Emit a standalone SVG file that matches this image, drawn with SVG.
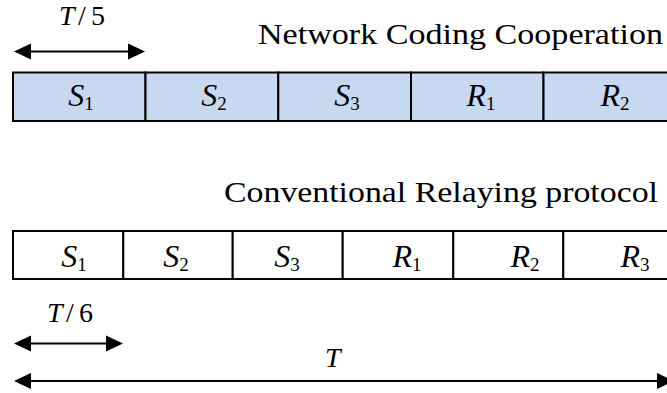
<svg xmlns="http://www.w3.org/2000/svg" width="667" height="393" viewBox="0 0 667 393">
<style>
.title{font-family:"Liberation Serif","Times New Roman",serif;font-size:30px;fill:#000}
.slot{stroke:#000;stroke-width:2}
.nc{fill:#C6D9F1}
.cr{fill:#FFFFFF}
.lab{font-family:"Liberation Serif","Times New Roman",serif;font-size:32px;fill:#000;text-anchor:middle}
.v{font-style:italic}
.sub{font-size:19px}
.dim{font-family:"Liberation Serif","Times New Roman",serif;font-size:28px;fill:#000}
.arr{stroke:#000;stroke-width:2;fill:none}
</style>
<defs>
<marker id="ah" markerUnits="userSpaceOnUse" markerWidth="18" markerHeight="18" viewBox="0 -9 18 18" refX="0" refY="0" orient="auto-start-reverse">
<path d="M0,-8 L17,0 L0,8 z" fill="#000"/>
</marker>
</defs>

<text class="title" x="258" y="44" textLength="405" lengthAdjust="spacingAndGlyphs">Network Coding Cooperation</text>
<text class="title" x="224" y="202" textLength="434" lengthAdjust="spacingAndGlyphs">Conventional Relaying protocol</text>

<g id="nc-S1"><rect class="slot nc" x="13" y="72.5" width="132.5" height="48.5"/><text class="lab" x="81" y="106"><tspan class="v">S</tspan><tspan class="sub" dy="4">1</tspan></text></g>
<g id="nc-S2"><rect class="slot nc" x="145.5" y="72.5" width="132.8" height="48.5"/><text class="lab" x="214" y="106"><tspan class="v">S</tspan><tspan class="sub" dy="4">2</tspan></text></g>
<g id="nc-S3"><rect class="slot nc" x="278.3" y="72.5" width="132.7" height="48.5"/><text class="lab" x="347" y="106"><tspan class="v">S</tspan><tspan class="sub" dy="4">3</tspan></text></g>
<g id="nc-R1"><rect class="slot nc" x="411" y="72.5" width="132.5" height="48.5"/><text class="lab" x="481" y="106"><tspan class="v">R</tspan><tspan class="sub" dy="4">1</tspan></text></g>
<g id="nc-R2"><rect class="slot nc" x="543.5" y="72.5" width="132.5" height="48.5"/><text class="lab" x="615" y="106"><tspan class="v">R</tspan><tspan class="sub" dy="4">2</tspan></text></g>

<g id="cr-S1"><rect class="slot cr" x="13" y="231" width="110.3" height="48"/><text class="lab" x="74" y="266.5"><tspan class="v">S</tspan><tspan class="sub" dy="4">1</tspan></text></g>
<g id="cr-S2"><rect class="slot cr" x="123.3" y="231" width="109.4" height="48"/><text class="lab" x="176" y="266.5"><tspan class="v">S</tspan><tspan class="sub" dy="4">2</tspan></text></g>
<g id="cr-S3"><rect class="slot cr" x="232.7" y="231" width="110" height="48"/><text class="lab" x="287" y="266.5"><tspan class="v">S</tspan><tspan class="sub" dy="4">3</tspan></text></g>
<g id="cr-R1"><rect class="slot cr" x="342.7" y="231" width="110.6" height="48"/><text class="lab" x="407" y="266.5"><tspan class="v">R</tspan><tspan class="sub" dy="4">1</tspan></text></g>
<g id="cr-R2"><rect class="slot cr" x="453.3" y="231" width="110" height="48"/><text class="lab" x="525" y="266.5"><tspan class="v">R</tspan><tspan class="sub" dy="4">2</tspan></text></g>
<g id="cr-R3"><rect class="slot cr" x="563.3" y="231" width="112" height="48"/><text class="lab" x="635" y="266.5"><tspan class="v">R</tspan><tspan class="sub" dy="4">3</tspan></text></g>

<g id="connectors">
<line class="arr" x1="31" y1="51.5" x2="128" y2="51.5" marker-start="url(#ah)" marker-end="url(#ah)"/>
<line class="arr" x1="31" y1="343.5" x2="106" y2="343.5" marker-start="url(#ah)" marker-end="url(#ah)"/>
<line class="arr" x1="31" y1="381" x2="657" y2="381" marker-start="url(#ah)" marker-end="url(#ah)"/>
</g>

<g id="dims">
<text class="dim" y="25"><tspan class="v" x="59">T</tspan><tspan x="78">/</tspan><tspan x="91">5</tspan></text>
<text class="dim" y="321.5"><tspan class="v" x="47">T</tspan><tspan x="66">/</tspan><tspan x="79">6</tspan></text>
<text class="dim v" x="325" y="366.5">T</text>
</g>
</svg>
